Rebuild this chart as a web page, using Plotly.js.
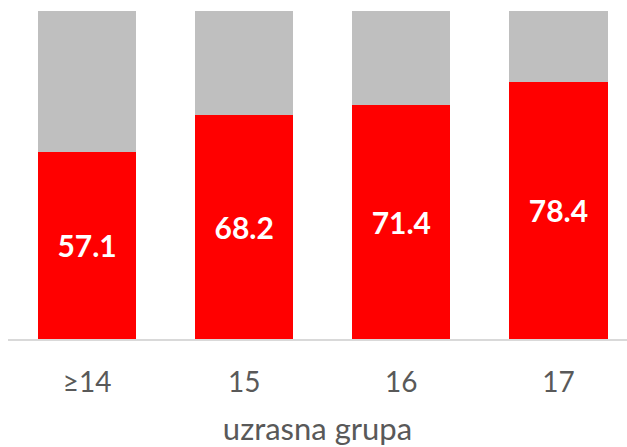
<!DOCTYPE html>
<html><head><meta charset="utf-8">
<script src="https://cdn.plot.ly/plotly-3.0.1.min.js"></script>
<style>html,body{margin:0;padding:0;background:#fff}</style>
</head><body>
<div id="chart" style="width:627px;height:447px"></div>
<script>
const categories = ['≥14', '15', '16', '17'];
const redValues = [57.1, 68.2, 71.4, 78.4];
const greyValues = [42.9, 31.8, 28.6, 21.6];
const xTitle = 'uzrasna grupa';

const traces = [
  {type: 'bar', x: categories, y: redValues, marker: {color: '#ff0000'},
   text: redValues.map(v => v.toFixed(1)), textposition: 'inside', insidetextanchor: 'middle',
   textfont: {family: 'Lato, sans-serif', size: 30, color: '#ffffff', weight: 'bold'},
   hoverinfo: 'none'},
  {type: 'bar', x: categories, y: greyValues, marker: {color: '#bfbfbf'}, hoverinfo: 'none'}
];

const layout = {
  width: 627, height: 447,
  barmode: 'stack', bargap: 0.376,
  showlegend: false,
  margin: {l: 8, r: 0, t: 11, b: 108},
  paper_bgcolor: '#ffffff', plot_bgcolor: '#ffffff',
  font: {family: 'Lato, sans-serif', color: '#595959'},
  xaxis: {type: 'category', range: [-0.503, 3.436], showline: true, linecolor: '#d9d9d9', linewidth: 2,
          ticks: '', tickfont: {size: 28, color: '#595959'}, ticklabelstandoff: 17,
          title: {text: xTitle, font: {size: 31, color: '#595959'}, standoff: 30}},
  yaxis: {range: [0, 100], visible: false, showgrid: false, zeroline: false}
};

Plotly.newPlot('chart', traces, layout, {displayModeBar: false, staticPlot: true});
</script>
</body></html>
